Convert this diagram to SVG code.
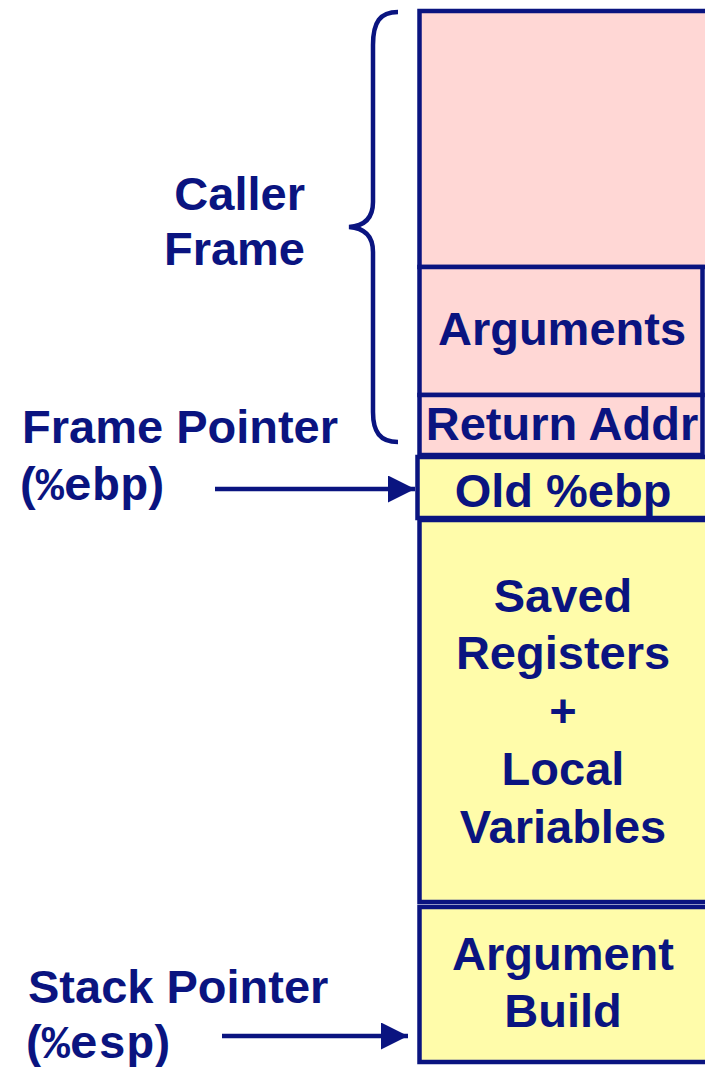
<svg xmlns="http://www.w3.org/2000/svg" width="705" height="1067" viewBox="0 0 705 1067">
<style>
.t{font-family:"Liberation Sans",Arial,Helvetica,sans-serif;font-weight:bold;font-size:47px;fill:#0a1480}
.c{text-anchor:middle}
.pk{fill:#ffd7d5;stroke:#0a1480;stroke-width:4.5}
.yl{fill:#fffcaa;stroke:#0a1480;stroke-width:4.5}
.ln{stroke:#0a1480;stroke-width:4.5;fill:none}
</style>
<defs>
<marker id="ah" markerUnits="userSpaceOnUse" markerWidth="28" markerHeight="27" refX="27" refY="13.5" orient="auto">
<path d="M0,0 L27,13.5 L0,27 Z" fill="#0a1480"/>
</marker>
</defs>
<g id="callerframe">
<path class="ln" d="M398,12 C380,12 373,22 373,45 L373,202 C373,219 364,226 349,227 C364,228 373,235 373,252 L373,412 C373,432 380,442 398,442"/>
<text class="t" x="305" y="210" text-anchor="end">Caller</text>
<text class="t" x="305" y="265" text-anchor="end">Frame</text>
</g>
<g id="top">
<rect class="pk" x="419.5" y="11" width="300" height="256"/>
</g>
<g id="arguments">
<rect class="pk" x="419.5" y="267" width="283" height="128"/>
<text class="t c" x="562" y="345">Arguments</text>
</g>
<g id="returnaddr">
<rect class="pk" x="419.5" y="395" width="283" height="60"/>
<text class="t c" x="562" y="440">Return Addr</text>
</g>
<g id="oldebp">
<rect class="yl" x="417.5" y="457" width="300" height="61"/>
<text class="t c" x="563" y="507">Old %ebp</text>
</g>
<g id="saved">
<rect class="yl" x="419.5" y="520" width="300" height="382"/>
<text class="t c" x="563" y="612">Saved</text>
<text class="t c" x="563" y="669">Registers</text>
<text class="t c" x="563" y="727">+</text>
<text class="t c" x="563" y="785">Local</text>
<text class="t c" x="563" y="843">Variables</text>
</g>
<g id="argbuild">
<rect class="yl" x="419.5" y="907" width="300" height="155"/>
<text class="t c" x="563" y="970">Argument</text>
<text class="t c" x="563" y="1027">Build</text>
</g>
<g id="framepointer">
<text class="t" x="22" y="443">Frame Pointer</text>
<text class="t" x="20" y="500">(<tspan style="font-family:'Liberation Mono','Courier New',monospace" font-family="Liberation Mono, monospace">%ebp</tspan>)</text>
</g>
<g id="stackpointer">
<text class="t" x="28" y="1003">Stack Pointer</text>
<text class="t" x="26" y="1058">(<tspan style="font-family:'Liberation Mono','Courier New',monospace" font-family="Liberation Mono, monospace">%esp</tspan>)</text>
</g>
<g id="connectors">
<line class="ln" x1="215" y1="489" x2="415" y2="489" marker-end="url(#ah)"/>
<line class="ln" x1="222" y1="1036" x2="408" y2="1036" marker-end="url(#ah)"/>
</g>
</svg>
